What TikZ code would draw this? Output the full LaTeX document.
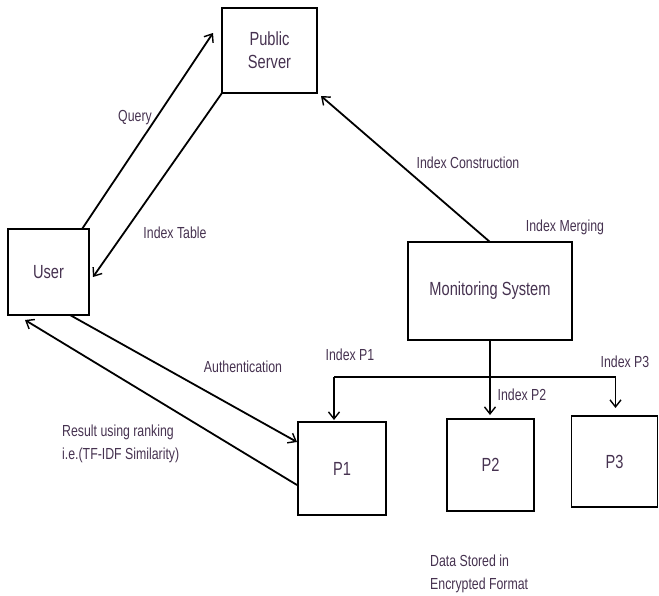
\documentclass[tikz,border=0pt]{standalone}
\usepackage{fontspec}
\setmainfont{Liberation Sans}[FakeStretch=0.77]
\usetikzlibrary{arrows.meta,calc}
\definecolor{txt}{RGB}{70,50,80}
\begin{document}
\begin{tikzpicture}[x=1pt,y=-1pt,
  box/.style={draw,line width=1.8pt,inner sep=0pt,outer sep=0pt,text=txt,font=\fontsize{19}{23}\selectfont,align=center},
  lbl/.style={text=txt,font=\fontsize{16}{23}\selectfont,inner sep=0pt},
  conn/.style={line width=1.8pt},
  arr/.style={conn,-{Straight Barb[length=7pt,width=11pt,line width=1.4pt]}}]
\useasboundingbox (0,0) rectangle (659,595);
\node[box,minimum width=95,minimum height=85] (ps) at (269.5,50.5) {Public\\Server};
\node[box,minimum width=81,minimum height=86] (user) at (48.5,272) {User};
\node[box,minimum width=164,minimum height=98] (mon) at (490,291) {Monitoring System};
\node[box,minimum width=88,minimum height=93] (p1) at (342,468.5) {P1};
\node[box,minimum width=87,minimum height=92] (p2) at (490.5,465) {P2};
\node[box,minimum width=86,minimum height=91] (p3) at (614.5,461.5) {P3};
% connectors
\draw[arr] ($(user.north east)+(-7,0)$) -- ($(ps.west)+(-9,-17.5)$);
\draw[arr] (ps.south west) -- ($(user.east)+(4,5)$);
\draw[arr] (mon.north) -- ($(ps.south east)+(4,3)$);
\draw[arr] ($(user.south)+(21.5,0)$) -- ($(p1.west)+(-1,-26.5)$);
\draw[arr] ($(p1.west)+(-1,16.5)$) -- ($(user.south west)+(17,5)$);
\coordinate (j) at ($(mon.south)+(0,37)$);
\coordinate (jl) at ($(j -| p1.west)+(36,0)$);
\coordinate (jr) at ($(j -| p3.west)+(44,0)$);
\draw[conn] (mon.south) -- (j);
\draw[conn] (jl) -- (jr);
\draw[arr] (jl) -- ($(p1.north -| jl)+(0,-2)$);
\draw[arr] (j) -- ($(p2.north -| j)+(0,-4)$);
\draw[arr] (jr) -- ($(p3.north -| jr)+(0,-8)$);
% labels
\node[lbl] (lq) at (135,118) {Query};
\node[lbl] (lit) at (175,233) {Index Table};
\node[lbl] (lic) at (468,163) {Index Construction};
\node[lbl] (lim) at (565,227) {Index Merging};
\node[lbl] (lau) at (243,367) {Authentication};
\node[lbl,anchor=west,align=left] (lres) at (62,443.5) {Result using ranking\\i.e.(TF-IDF Similarity)};
\node[lbl] (lp1) at (350,355) {Index P1};
\node[lbl] (lp2) at (522,395) {Index P2};
\node[lbl] (lp3) at (625,362) {Index P3};
\node[lbl,anchor=west,align=left] (ldata) at (430,573.5) {Data Stored in\\Encrypted Format};
\end{tikzpicture}
\end{document}
